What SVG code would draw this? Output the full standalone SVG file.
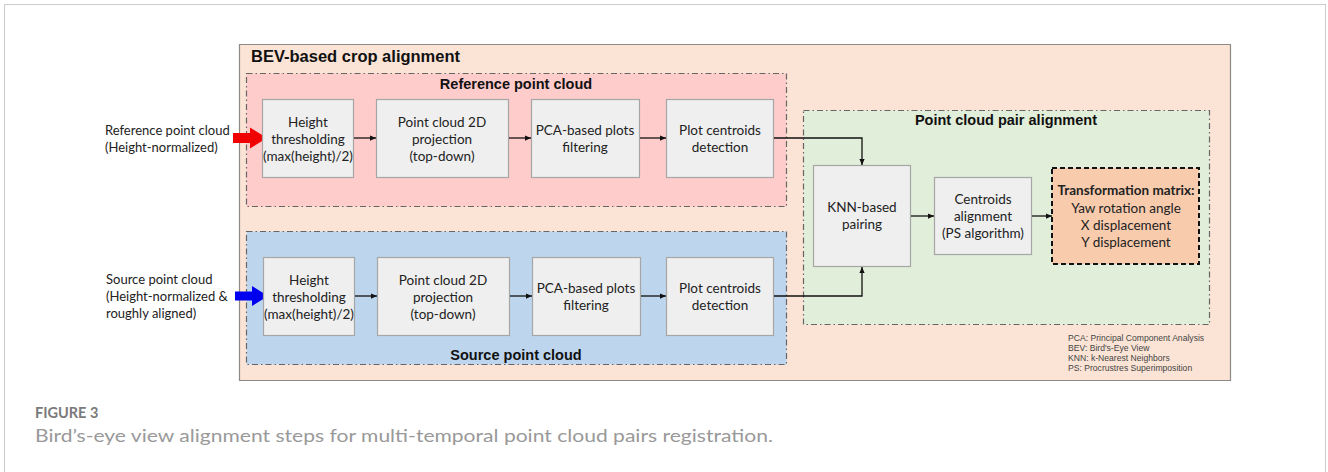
<svg xmlns="http://www.w3.org/2000/svg" width="1328" height="472" viewBox="0 0 1328 472">
<defs>
<marker id="ah" viewBox="0 0 8 8" refX="8" refY="4" markerWidth="6" markerHeight="6" markerUnits="userSpaceOnUse" orient="auto">
<path d="M0,0.5 L8,4 L0,7.5 z" fill="#111"/>
</marker>
</defs>
<style>
.grp{stroke:#666;stroke-width:1.2;stroke-dasharray:6 3 1.5 3}
.box{fill:#efefef;stroke:#a6a6a6;stroke-width:1.2}
.t{font-family:Lato,"Open Sans",sans-serif;font-size:13.5px;fill:#222;text-anchor:middle}
.in{font-family:Lato,"Open Sans",sans-serif;font-size:13px;fill:#222}
.h{font-family:"Liberation Sans",Arial,sans-serif;font-weight:bold;font-size:14.5px;fill:#111;text-anchor:middle}
.leg{font-family:"Liberation Sans",Arial,sans-serif;font-size:8.6px;fill:#444}
.c{fill:none;stroke:#111;stroke-width:1.3}
</style>
<rect x="0" y="0" width="1328" height="472" fill="#fff"/>
<rect x="4.5" y="4.5" width="1321" height="490" fill="none" stroke="#ccc" stroke-width="1"/>

<g id="bev-group">
<rect x="239.5" y="44.5" width="991" height="336" fill="#fbe4d6" stroke="#222" stroke-width="1.2" stroke-dasharray="1 1"/>
<text x="251" y="62" font-family="Liberation Sans,Arial,sans-serif" font-weight="bold" font-size="16.5px" fill="#111">BEV-based crop alignment</text>
</g>

<g id="reference-group">
<rect x="246.5" y="73.5" width="540" height="133" fill="#ffcccc" class="grp"/>
<text x="516" y="89" class="h">Reference point cloud</text>
</g>

<g id="source-group">
<rect x="246.5" y="231.5" width="540" height="133" fill="#bdd6ee" class="grp"/>
<text x="516" y="360" class="h">Source point cloud</text>
</g>

<g id="pair-group">
<rect x="803.5" y="110.5" width="406" height="214" fill="#e1eed9" class="grp"/>
<text x="1006" y="125" class="h">Point cloud pair alignment</text>
</g>

<g id="ref-input">
<text x="105" y="135" class="in">Reference point cloud</text>
<text x="105" y="152" class="in">(Height-normalized)</text>
<path d="M233,133 H250 V127.5 L267,138 L250,148.5 V143 H233 z" fill="#f00000"/>
</g>

<g id="src-input">
<text x="106" y="284" class="in">Source point cloud</text>
<text x="106" y="301" class="in">(Height-normalized &amp;</text>
<text x="106" y="318" class="in">roughly aligned)</text>
<path d="M235,291.5 H252 V286 L268,296 L252,306 V300.5 H235 z" fill="#0000ee"/>
</g>

<g id="ref-height">
<rect x="262.5" y="99.5" width="91" height="78" class="box"/>
<text x="308" y="127" class="t">Height</text>
<text x="308" y="144" class="t">thresholding</text>
<text x="308" y="161" class="t">(max(height)/2)</text>
</g>
<g id="ref-proj">
<rect x="376.5" y="99.5" width="132" height="78" class="box"/>
<text x="442" y="127" class="t">Point cloud 2D</text>
<text x="442" y="144" class="t">projection</text>
<text x="442" y="161" class="t">(top-down)</text>
</g>
<g id="ref-pca">
<rect x="531.5" y="99.5" width="108" height="78" class="box"/>
<text x="585" y="135" class="t">PCA-based plots</text>
<text x="585" y="152" class="t">filtering</text>
</g>
<g id="ref-centroids">
<rect x="666.5" y="99.5" width="107" height="78" class="box"/>
<text x="720" y="135" class="t">Plot centroids</text>
<text x="720" y="152" class="t">detection</text>
</g>

<g id="src-height">
<rect x="263.5" y="257.5" width="91" height="78" class="box"/>
<text x="309" y="285" class="t">Height</text>
<text x="309" y="302" class="t">thresholding</text>
<text x="309" y="319" class="t">(max(height)/2)</text>
</g>
<g id="src-proj">
<rect x="377.5" y="257.5" width="132" height="78" class="box"/>
<text x="443" y="285" class="t">Point cloud 2D</text>
<text x="443" y="302" class="t">projection</text>
<text x="443" y="319" class="t">(top-down)</text>
</g>
<g id="src-pca">
<rect x="532.5" y="257.5" width="108" height="78" class="box"/>
<text x="586" y="293" class="t">PCA-based plots</text>
<text x="586" y="310" class="t">filtering</text>
</g>
<g id="src-centroids">
<rect x="666.5" y="257.5" width="107" height="78" class="box"/>
<text x="720" y="293" class="t">Plot centroids</text>
<text x="720" y="310" class="t">detection</text>
</g>

<g id="knn">
<rect x="813.5" y="165.5" width="97" height="101" class="box"/>
<text x="862" y="212" class="t">KNN-based</text>
<text x="862" y="229" class="t">pairing</text>
</g>
<g id="centroids-align">
<rect x="934.5" y="177.5" width="97" height="77" class="box"/>
<text x="983" y="204" class="t">Centroids</text>
<text x="983" y="221" class="t">alignment</text>
<text x="983" y="238" class="t">(PS algorithm)</text>
</g>
<g id="transform">
<rect x="1052" y="168" width="147" height="96" fill="#f8cbad" stroke="#111" stroke-width="2" stroke-dasharray="5 3"/>
<text x="1126" y="195" class="t" font-weight="bold">Transformation matrix:</text>
<text x="1126" y="213" class="t">Yaw rotation angle</text>
<text x="1126" y="230" class="t">X displacement</text>
<text x="1126" y="247" class="t">Y displacement</text>
</g>

<g id="legend">
<text x="1068" y="341" class="leg">PCA: Principal Component Analysis</text>
<text x="1068" y="351" class="leg">BEV: Bird's-Eye View</text>
<text x="1068" y="361" class="leg">KNN: k-Nearest Neighbors</text>
<text x="1068" y="371" class="leg">PS: Procrustres Superimposition</text>
</g>

<g id="connectors">
<line x1="354" y1="138" x2="376" y2="138" class="c" marker-end="url(#ah)"/>
<line x1="509" y1="138" x2="531" y2="138" class="c" marker-end="url(#ah)"/>
<line x1="640" y1="138" x2="666" y2="138" class="c" marker-end="url(#ah)"/>
<polyline points="774,138 862,138 862,165" class="c" marker-end="url(#ah)"/>
<line x1="355" y1="296" x2="377" y2="296" class="c" marker-end="url(#ah)"/>
<line x1="510" y1="296" x2="532" y2="296" class="c" marker-end="url(#ah)"/>
<line x1="641" y1="296" x2="666" y2="296" class="c" marker-end="url(#ah)"/>
<polyline points="774,296 862,296 862,267" class="c" marker-end="url(#ah)"/>
<line x1="911" y1="216" x2="934" y2="216" class="c" marker-end="url(#ah)"/>
<line x1="1032" y1="216" x2="1052" y2="216" class="c" marker-end="url(#ah)"/>
</g>

<g id="caption">
<text x="35" y="418" font-family="Lato,'Open Sans',sans-serif" font-size="14.5px" font-weight="bold" fill="#7a7a7a">FIGURE 3</text>
<text x="35" y="442" font-family="Lato,'Open Sans',sans-serif" font-size="18px" fill="#999" textLength="738" lengthAdjust="spacingAndGlyphs">Bird’s-eye view alignment steps for multi-temporal point cloud pairs registration.</text>
</g>
</svg>
